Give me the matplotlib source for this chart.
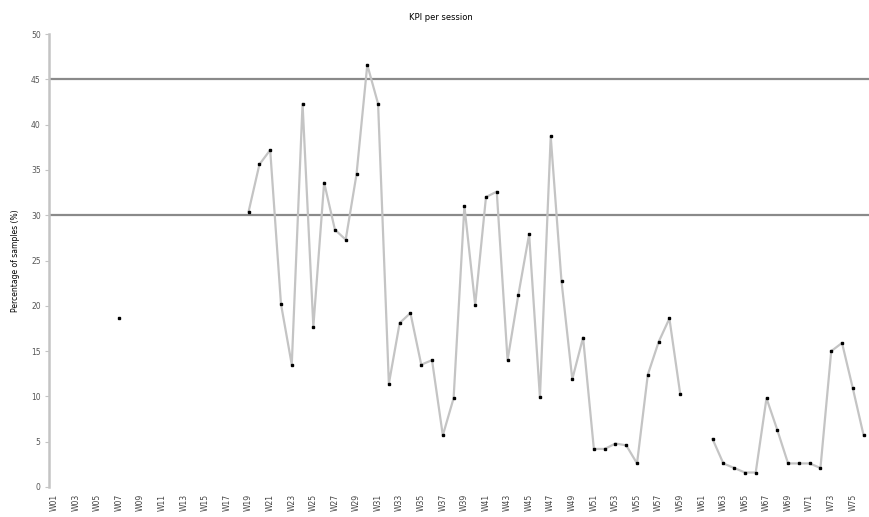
import numpy as np
import matplotlib
matplotlib.use("Agg")
import matplotlib.pyplot as plt

nan = np.nan
values = [
    nan, nan, nan, nan, nan, nan, 18.6, nan, nan, nan,
    nan, nan, nan, nan, nan, nan, nan, nan, 30.4, 35.6,
    37.2, 20.2, 13.5, 42.3, 17.7, 33.6, 28.4, 27.3, 34.5, 46.6,
    42.3, 11.4, 18.1, 19.2, 13.5, 14.0, 5.7, 9.8, 31.0, 20.1,
    32.0, 32.6, 14.0, 21.2, 27.9, 9.9, 38.7, 22.7, 11.9, 16.5,
    4.2, 4.2, 4.8, 4.6, 2.6, 12.4, 16.0, 18.6, 10.3, nan,
    nan, 5.3, 2.6, 2.1, 1.6, 1.6, 9.8, 6.3, 2.6, 2.6,
    2.6, 2.1, 15.0, 15.9, 10.9, 5.7,
]
labels = ["W%02d" % (i + 1) for i in range(len(values))]
upper_limit = 45
lower_limit = 30

title = "KPI per session"
ylabel = "Percentage of samples (%)"

x = np.arange(len(values))
y = np.array(values, dtype=float)

fig = plt.figure(figsize=(8.69, 5.17), dpi=100)
ax = fig.add_axes([49 / 869, 30 / 517, 820 / 869, 453 / 517])

ax.axhline(upper_limit, color="#8a8a8a", lw=1.6, zorder=1)
ax.axhline(lower_limit, color="#8a8a8a", lw=1.6, zorder=1)

ax.plot(x, y, color="#c4c4c4", lw=1.6, zorder=2)
ax.plot(x, y, ls="none", marker="s", ms=1.7, color="black", zorder=3)

ax.set_xlim(-0.5, len(values) - 0.5)
ax.set_ylim(0, 50)
ax.set_yticks(np.arange(0, 51, 5))
ax.set_xticks(x[::2])
ax.set_xticklabels(labels[::2], rotation=90, fontsize=5.5, color="#444444")
ax.tick_params(axis="y", labelsize=5.5, labelcolor="#555555", length=3,
               color="#c4c4c4", pad=3)
ax.tick_params(axis="x", length=0, pad=5)

for side in ["top", "right", "bottom"]:
    ax.spines[side].set_visible(False)
ax.spines["left"].set_color("#c4c4c4")
ax.spines["left"].set_linewidth(1.8)

ax.set_ylabel(ylabel, fontsize=5.5, labelpad=8)
fig.text(441 / 869, 1 - 17 / 517, title, ha="center", va="center", fontsize=6)

fig.savefig("out.png", dpi=100)
